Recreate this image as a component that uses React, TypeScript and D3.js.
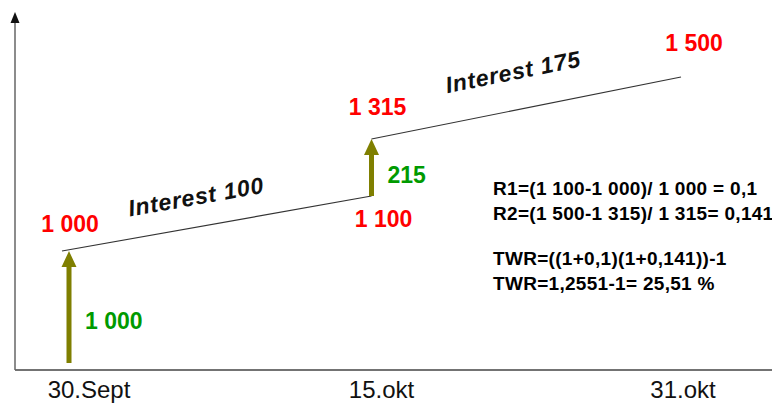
import React from "react";
import * as d3 from "d3";

// dates on the x axis
const dates = ["30.Sept", "15.okt", "31.okt"];

// growth periods (value line segments)
const periodStart = ["30.Sept", "15.okt"];
const periodEnd = ["15.okt", "31.okt"];
const startValues = [1000, 1315];
const endValues = [1100, 1500];
const interest = [100, 175];

// deposits (arrows)
const depositDates = ["30.Sept", "15.okt"];
const depositBase = [0, 1100];
const depositAmounts = [1000, 215];

const formulaLines = [
  "R1=(1 100-1 000)/ 1 000 = 0,1",
  "R2=(1 500-1 315)/ 1 315= 0,141",
  "TWR=((1+0,1)(1+0,141))-1",
  "TWR=1,2551-1= 25,51 %",
];

const fmt = (v: number) => d3.format(",")(v).replace(/,/g, " ");

const W = 772;
const H = 405;
const FONT = "'Liberation Sans', Arial, sans-serif";
const RED = "#ff0000";
const GREEN = "#009a00";
const OLIVE = "#7f7f00";

export default function App() {
  const x = d3.scalePoint<string>().domain(dates).range([62, 681]);
  // schematic value axis, not proportional
  const y = d3
    .scaleLinear()
    .domain([0, 1000, 1100, 1315, 1500])
    .range([363, 251, 196, 139, 77]);

  const axisY = 370;
  const axisX = 15;
  const arrowDx = [7, 0];
  const tickDx = [27, 10, 2];
  const interestOffset = [-22, -30];
  const interestShift = [0, 10];

  return (
    <svg
      width={W}
      height={H}
      style={{ position: "fixed", left: 0, top: 0, background: "#fff" }}
      fontFamily={FONT}
    >
      {/* axes */}
      <line x1={axisX} x2={W} y1={axisY} y2={axisY} stroke="#444" strokeWidth={1.5} />
      <line x1={axisX} x2={axisX} y1={axisY} y2={20} stroke="#666" strokeWidth={1.5} />
      <path
        d={`M${axisX},12 L${axisX - 4.5},23 L${axisX + 4.5},23 Z`}
        fill="#111"
      />

      {dates.map((d, i) => (
        <text
          key={d}
          x={(x(d) as number) + tickDx[i]}
          y={398}
          textAnchor="middle"
          fontSize={24}
          fill="#111"
        >
          {d}
        </text>
      ))}

      {/* value segments */}
      {periodStart.map((s, i) => {
        const x1 = x(s) as number;
        const x2 = x(periodEnd[i]) as number;
        const y1 = y(startValues[i]);
        const y2 = y(endValues[i]);
        const ang = (Math.atan2(y2 - y1, x2 - x1) * 180) / Math.PI;
        const t = 0.45;
        const mx = x1 + (x2 - x1) * t;
        const my = y1 + (y2 - y1) * t;
        return (
          <g key={s}>
            <line x1={x1} y1={y1} x2={x2} y2={y2} stroke="#333" strokeWidth={1.2} />
            <text
              transform={`translate(${mx},${my}) rotate(${ang}) translate(${interestShift[i]},${interestOffset[i]})`}
              textAnchor="middle"
              fontSize={23}
              fontWeight="bold"
              fontStyle="italic"
              fill="#111"
              letterSpacing={0.8}
            >
              {`Interest ${interest[i]}`}
            </text>
            <text
              x={x1 + (i === 0 ? 8 : 6)}
              y={y1 - (i === 0 ? 19 : 24)}
              textAnchor="middle"
              fontSize={23}
              fontWeight="bold"
              fill={RED}
            >
              {fmt(startValues[i])}
            </text>
            <text
              x={x2 + (i === 0 ? 12 : 13)}
              y={y2 + (i === 0 ? 31 : -26)}
              textAnchor="middle"
              fontSize={23}
              fontWeight="bold"
              fill={RED}
            >
              {fmt(endValues[i])}
            </text>
          </g>
        );
      })}

      {/* deposit arrows */}
      {depositDates.map((d, i) => {
        const ax = (x(d) as number) + arrowDx[i];
        const y0 = y(depositBase[i]);
        const y1 = y(depositBase[i] + depositAmounts[i]);
        const head = 16;
        return (
          <g key={d}>
            <rect x={ax - 2.5} y={y1 + head - 1} width={5} height={y0 - y1 - head + 1} fill={OLIVE} />
            <path
              d={`M${ax},${y1} L${ax - 7.5},${y1 + head} L${ax + 7.5},${y1 + head} Z`}
              fill={OLIVE}
            />
            <text
              x={ax + 16}
              y={i === 0 ? y0 - 34 : y0 - 13}
              fontSize={23}
              fontWeight="bold"
              fill={GREEN}
            >
              {fmt(depositAmounts[i])}
            </text>
          </g>
        );
      })}

      {/* formulas */}
      <text x={493} y={195} fontSize={19} fontWeight="bold" fill="#000" letterSpacing={0.3}>
        {formulaLines.map((l, i) => (
          <tspan key={i} x={493} dy={i === 0 ? 0 : i === 2 ? 45 : 25}>
            {l}
          </tspan>
        ))}
      </text>
    </svg>
  );
}
